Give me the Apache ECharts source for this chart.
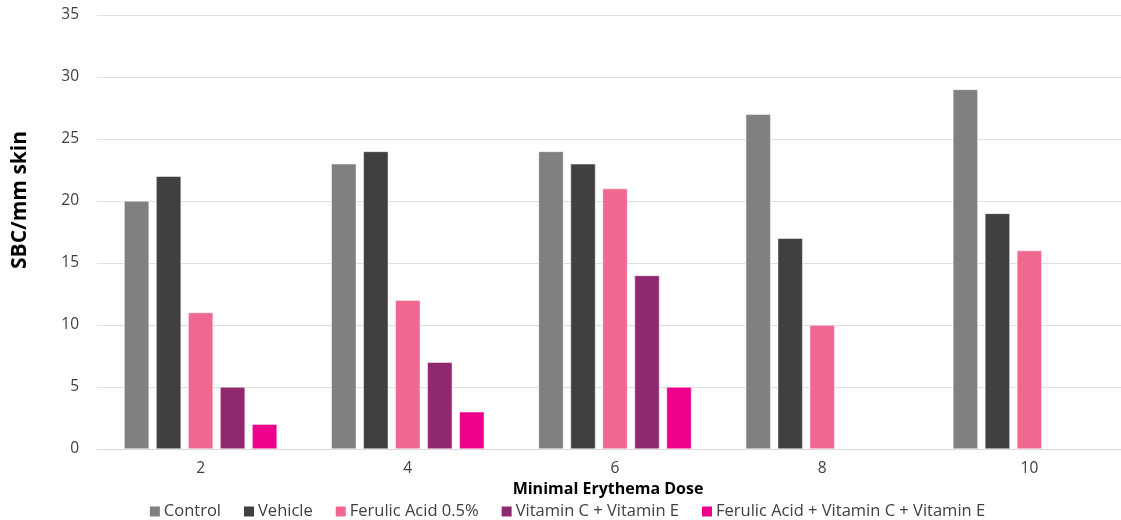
<!DOCTYPE html>
<html><head><meta charset="utf-8">
<script src="https://cdn.jsdelivr.net/npm/echarts@6/dist/echarts.min.js"></script>
<style>html,body{margin:0;padding:0;background:#fff;overflow:hidden}#c{width:1133px;height:520px}</style>
</head><body><div id="c"></div>
<script>
const categories = ['2','4','6','8','10'];
const seriesNames = ['Control','Vehicle','Ferulic Acid 0.5%','Vitamin C + Vitamin E','Ferulic Acid + Vitamin C + Vitamin E'];
const control = [20, 23, 24, 27, 29];
const vehicle = [22, 24, 23, 17, 19];
const ferulic = [11, 12, 21, 10, 16];
const vitCE = [5, 7, 14, null, null];
const ferulicCE = [2, 3, 5, null, null];
const colors = ['#808080','#404040','#F06890','#902870','#EC008C'];
const values = [control, vehicle, ferulic, vitCE, ferulicCE];
const font = '"Open Sans", "Noto Sans", sans-serif';
const chart = echarts.init(document.getElementById('c'));
chart.setOption({
  animation: false,
  grid: {left: 97, right: 0, top: 15, bottom: 71, containLabel: false},
  legend: {
    top: 498, left: 'center', itemWidth: 12, itemHeight: 12, itemGap: 21,
    icon: 'rect',
    textStyle: {fontFamily: font, fontSize: 16.5, color: '#404040', padding: [0,0,0,-2]},
    data: seriesNames
  },
  xAxis: {
    type: 'category', data: categories,
    name: 'Minimal Erythema Dose', nameLocation: 'middle', nameGap: 31,
    nameTextStyle: {fontFamily: font, fontWeight: 'bold', fontSize: 16, color: '#000', padding: [0,14,0,0]},
    axisLine: {lineStyle: {color: '#d9d9d9'}}, axisTick: {show: false},
    axisLabel: {fontFamily: font, fontSize: 15.5, color: '#404040', margin: 12}
  },
  yAxis: {
    type: 'value', min: 0, max: 35, interval: 5,
    name: 'SBC/mm skin', nameLocation: 'middle', nameGap: 66, nameRotate: 90,
    nameTextStyle: {fontFamily: font, fontWeight: 'bold', fontSize: 21, color: '#000', padding: [0,0,0,64]},
    axisLine: {show: false}, axisTick: {show: false},
    axisLabel: {fontFamily: font, fontSize: 15.5, color: '#404040', margin: 18},
    splitLine: {lineStyle: {color: '#e0e0e0', width: 1}}
  },
  series: seriesNames.map((n, i) => ({
    name: n, type: 'bar', data: values[i],
    barWidth: 25, barGap: '28%',
    itemStyle: {color: colors[i], borderColor: '#fff', borderWidth: 0.5}
  }))
});
</script></body></html>
